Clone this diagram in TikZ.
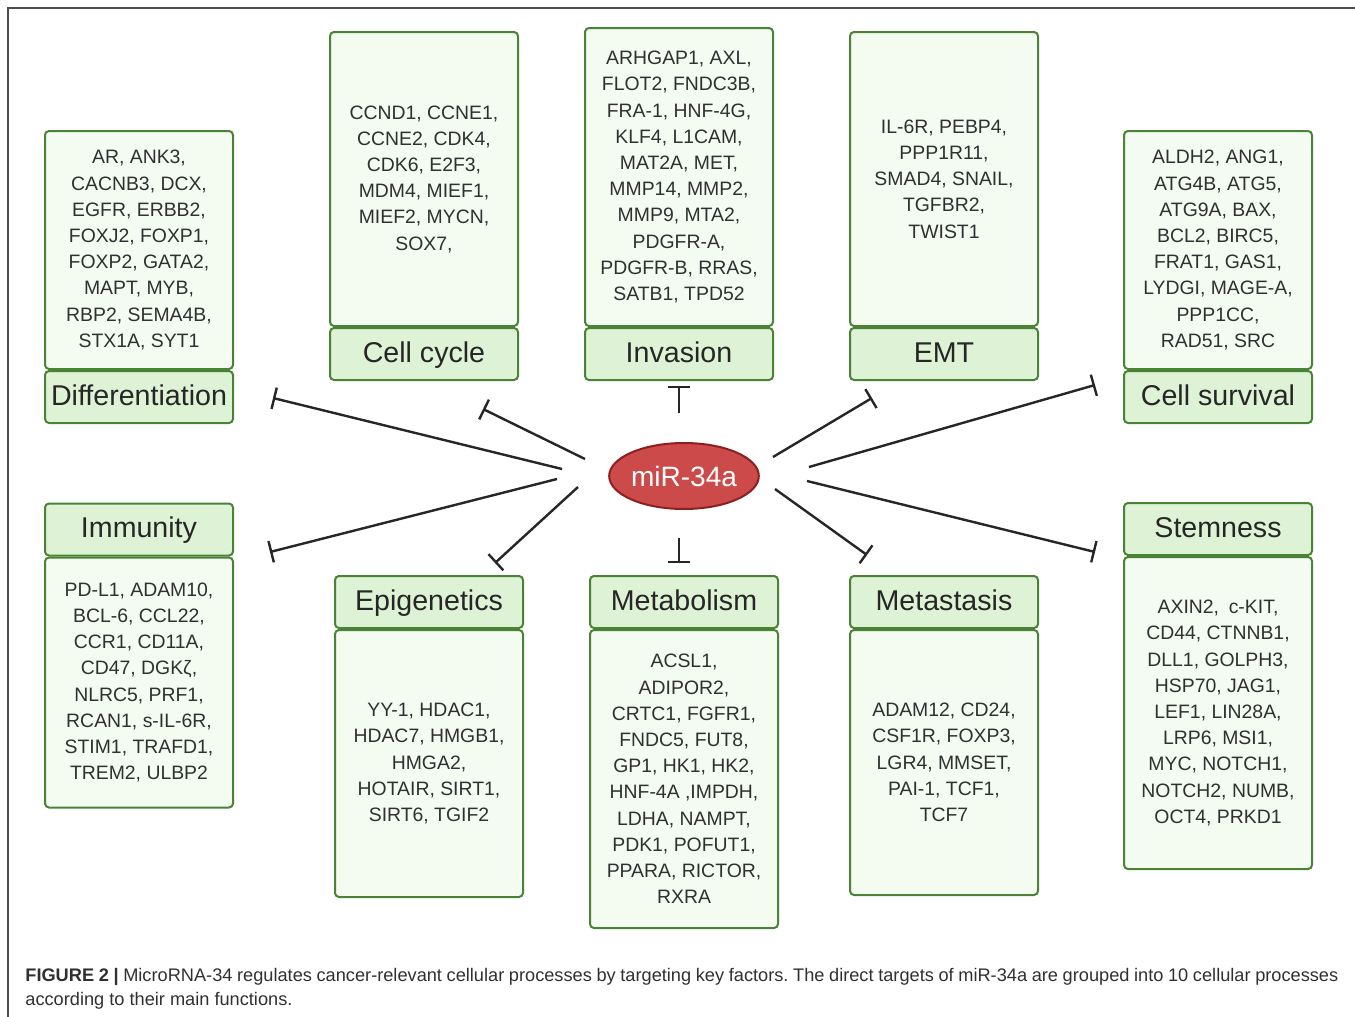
\documentclass[tikz,border=0pt]{standalone}
\usepackage{fontspec}
\setmainfont{Liberation Sans}
\usepackage{xcolor}
\usetikzlibrary{arrows.meta,positioning,shapes.geometric}
\definecolor{boxgreen}{RGB}{74,130,54}
\definecolor{bodyfill}{RGB}{244,251,241}
\definecolor{headfill}{RGB}{222,242,213}
\definecolor{mirred}{RGB}{205,74,74}
\definecolor{mirdark}{RGB}{140,32,32}
\definecolor{inktext}{RGB}{48,48,48}
\newcommand{\genefont}{\fontsize{9.7}{13.1}\selectfont}
\newcommand{\headfont}{\fontsize{14.3}{16}\selectfont}
\newcommand{\capfont}{\fontsize{9.1}{12}\selectfont\frenchspacing}
\tikzset{
	genebox/.style={draw=boxgreen, fill=bodyfill, rounded corners=2pt, line width=1pt,
		align=center, inner sep=0pt, minimum width=94pt, text=inktext, font=\genefont},
	headbox/.style={draw=boxgreen, fill=headfill, rounded corners=2pt, line width=1pt,
		align=center, inner sep=0pt, minimum width=94pt, minimum height=26pt,
		text height=10.3pt, text depth=2pt, text=black!85, font=\headfont},
	inhibit/.style={-{Bar[width=11pt]}, line width=1.2pt, black!85}
}

\begin{document}
\begin{tikzpicture}[x=0.5pt, y=-0.5pt]
	
	\useasboundingbox (0,0) rectangle (1355,1017);
	
	%% -- Page frame (top and left)
	\draw[black!70, line width=0.8pt] (8,1017) -- (8,8) -- (1355,8);
	
	%% -- Top row: gene lists with their process below
	\node[genebox, minimum height=119pt] (dif) at (139,250)
	{AR, ANK3,\\ CACNB3, DCX,\\ EGFR, ERBB2,\\ FOXJ2, FOXP1,\\
		FOXP2, GATA2,\\ MAPT, MYB,\\ RBP2, SEMA4B,\\ STX1A, SYT1};
	\node[headbox, below=0pt of dif] (difL) {Differentiation};
	
	\node[genebox, minimum height=147pt] (cyc) at (424,179)
	{CCND1, CCNE1,\\ CCNE2, CDK4,\\ CDK6, E2F3,\\ MDM4, MIEF1,\\
		MIEF2, MYCN,\\ SOX7,};
	\node[headbox, below=0pt of cyc] (cycL) {Cell cycle};
	
	\node[genebox, minimum height=149pt] (inv) at (679,177)
	{ARHGAP1, AXL,\\ FLOT2, FNDC3B,\\ FRA-1, HNF-4G,\\ KLF4, L1CAM,\\
		MAT2A, MET,\\ MMP14, MMP2,\\ MMP9, MTA2,\\ PDGFR-A,\\
		PDGFR-B, RRAS,\\ SATB1, TPD52};
	\node[headbox, below=0pt of inv] (invL) {Invasion};
	
	\node[genebox, minimum height=147pt] (emt) at (944,179)
	{IL-6R, PEBP4,\\ PPP1R11,\\ SMAD4, SNAIL,\\ TGFBR2,\\ TWIST1};
	\node[headbox, below=0pt of emt] (emtL) {EMT};
	
	\node[genebox, minimum height=119pt] (sur) at (1218,250)
	{ALDH2, ANG1,\\ ATG4B, ATG5,\\ ATG9A, BAX,\\ BCL2, BIRC5,\\
		FRAT1, GAS1,\\ LYDGI, MAGE-A,\\ PPP1CC,\\ RAD51, SRC};
	\node[headbox, below=0pt of sur] (surL) {Cell survival};
	
	%% -- Bottom row: process on top, gene list below
	\node[headbox] (immL) at (139,529.5) {Immunity};
	\node[genebox, minimum height=125pt, below=0pt of immL] (imm)
	{PD-L1, ADAM10,\\ BCL-6, CCL22,\\ CCR1, CD11A,\\ CD47, DGKζ,\\
		NLRC5, PRF1,\\ RCAN1, s-IL-6R,\\ STIM1, TRAFD1,\\ TREM2, ULBP2};
	
	\node[headbox] (epiL) at (429,602) {Epigenetics};
	\node[genebox, minimum height=133.5pt, below=0pt of epiL] (epi)
	{YY-1, HDAC1,\\ HDAC7, HMGB1,\\ HMGA2,\\ HOTAIR, SIRT1,\\ SIRT6, TGIF2};
	
	\node[headbox] (metL) at (684,602) {Metabolism};
	\node[genebox, minimum height=149pt, below=0pt of metL] (met)
	{ACSL1,\\ ADIPOR2,\\ CRTC1, FGFR1,\\ FNDC5, FUT8,\\ GP1, HK1, HK2,\\
		HNF-4A ,IMPDH,\\ LDHA, NAMPT,\\ PDK1, POFUT1,\\ PPARA, RICTOR,\\ RXRA};
	
	\node[headbox] (mtsL) at (944,602) {Metastasis};
	\node[genebox, minimum height=132.5pt, below=0pt of mtsL] (mts)
	{ADAM12, CD24,\\ CSF1R, FOXP3,\\ LGR4, MMSET,\\ PAI-1, TCF1,\\ TCF7};
	
	\node[headbox] (stmL) at (1218,529) {Stemness};
	\node[genebox, minimum height=156pt, below=0pt of stmL] (stm)
	{AXIN2,\enspace c-KIT,\\ CD44, CTNNB1,\\ DLL1, GOLPH3,\\ HSP70, JAG1,\\
		LEF1, LIN28A,\\ LRP6, MSI1,\\ MYC, NOTCH1,\\ NOTCH2, NUMB,\\ OCT4, PRKD1};
	
	%% -- Centre: miR-34a
	\node[ellipse, draw=mirdark, fill=mirred, line width=1pt,
	minimum width=73pt, minimum height=33pt, inner sep=0pt,
	text=white, font=\fontsize{14}{16}\selectfont] (mir) at (684,476) {miR-34a};
	
	%% -- Inhibition lines (free ends)
	\coordinate (difS) at (562,469);  \coordinate (difE) at (273,398);
	\coordinate (cycS) at (585,459);  \coordinate (cycE) at (483,409);
	\coordinate (invS) at (679,413);  \coordinate (invE) at (679,386);
	\coordinate (emtS) at (773,457);  \coordinate (emtE) at (872,398);
	\coordinate (surS) at (809,467);  \coordinate (surE) at (1095,385);
	\coordinate (immS) at (557,479);  \coordinate (immE) at (270,552);
	\coordinate (epiS) at (578,487);  \coordinate (epiE) at (495,563);
	\coordinate (metS) at (679,538);  \coordinate (metE) at (679,563);
	\coordinate (mtsS) at (775,489);  \coordinate (mtsE) at (867,555);
	\coordinate (stmS) at (807,481);  \coordinate (stmE) at (1095,552);
	
	\draw[inhibit] (difS) -- (difE);
	\draw[inhibit] (cycS) -- (cycE);
	\draw[inhibit] (invS) -- (invE);
	\draw[inhibit] (emtS) -- (emtE);
	\draw[inhibit] (surS) -- (surE);
	\draw[inhibit] (immS) -- (immE);
	\draw[inhibit] (epiS) -- (epiE);
	\draw[inhibit] (metS) -- (metE);
	\draw[inhibit] (mtsS) -- (mtsE);
	\draw[inhibit] (stmS) -- (stmE);
	
	%% -- Caption
	\node[anchor=north west, text width=656.5pt, align=justify, inner sep=0pt,
	font=\capfont, text=inktext] (cap) at (25,968)
	{\textbf{FIGURE 2 |} MicroRNA-34 regulates cancer-relevant cellular processes by targeting key factors. The direct targets of miR-34a are grouped into 10 cellular processes\linebreak
		according to their main functions.};
	
\end{tikzpicture}
\end{document}
